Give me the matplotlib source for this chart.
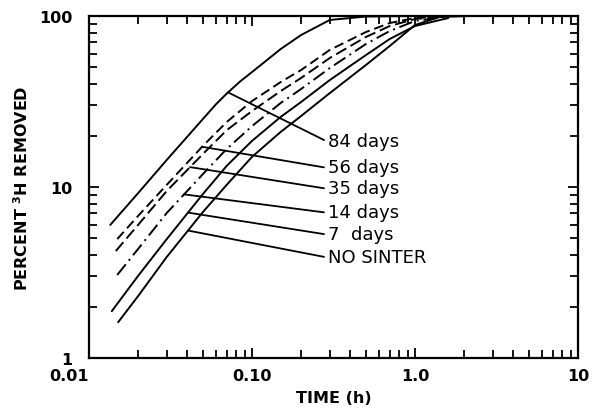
import numpy as np
import matplotlib
matplotlib.use("Agg")
import matplotlib.pyplot as plt
from matplotlib.ticker import FixedLocator, FixedFormatter, LogLocator, NullFormatter

# ---- data (time in h, percent 3H removed) ----
labels = ["84 days", "56 days", "35 days", "14 days", "7  days", "NO SINTER"]

t_84 = [0.0135, 0.02, 0.03, 0.05, 0.06, 0.07, 0.085, 0.10, 0.15, 0.20, 0.30, 0.50, 1.0]
p_84 = [6.0, 9.2, 14.4, 25.0, 30.4, 35.2, 41.6, 47.0, 64.1, 77.4, 94.8, 99.3, 100]

t_56 = [0.0149, 0.02, 0.03, 0.05, 0.07, 0.10, 0.15, 0.20, 0.30, 0.50, 0.70, 1.0, 1.6]
p_56 = [4.96, 6.77, 10.3, 17.4, 24.0, 31.8, 41.1, 48.3, 63.3, 80.6, 91.0, 97.3, 100]

t_35 = [0.0146, 0.02, 0.03, 0.05, 0.07, 0.10, 0.15, 0.20, 0.30, 0.50, 0.70, 1.0, 1.6]
p_35 = [4.22, 6.0, 9.48, 15.6, 21.5, 27.8, 36.4, 43.4, 56.8, 75.4, 87.4, 96.0, 100]

t_14 = [0.0149, 0.02, 0.03, 0.05, 0.07, 0.10, 0.15, 0.20, 0.30, 0.50, 0.70, 1.0, 1.6]
p_14 = [3.06, 4.34, 7.05, 11.9, 16.7, 22.7, 31.0, 37.4, 49.6, 68.6, 81.7, 93.5, 99.3]

t_7 = [0.0138, 0.02, 0.03, 0.05, 0.07, 0.10, 0.15, 0.20, 0.30, 0.50, 0.70, 1.0, 1.6]
p_7 = [1.88, 3.02, 4.96, 9.10, 13.3, 18.6, 25.7, 31.4, 42.2, 59.1, 73.4, 87.4, 97.3]

t_ns = [0.0151, 0.02, 0.03, 0.05, 0.07, 0.10, 0.15, 0.20, 0.30, 0.50, 0.70, 1.0, 1.42, 2.15]
p_ns = [1.62, 2.30, 3.90, 7.14, 10.3, 15.0, 21.0, 26.0, 35.4, 51.7, 66.8, 88.6, 98.7, 100]

# time at which each label's leader line touches its curve
leader_t = [0.0713, 0.0494, 0.0417, 0.0383, 0.0405, 0.0405]

x_ticks = [0.01, 0.1, 1.0, 10]
x_ticklabels = ["0.01", "0.10", "1.0", "10"]
y_ticks = [1, 10, 100]
y_ticklabels = ["1", "10", "100"]

series_t = [t_84, t_56, t_35, t_14, t_7, t_ns]
series_p = [p_84, p_56, p_35, p_14, p_7, p_ns]
styles = ["-", (0, (5, 2.5)), (0, (6, 2.5)), (0, (7, 2.5, 1, 2.5)), "-", "-"]

fig = plt.figure(figsize=(5.97, 4.14), dpi=100)
ax = fig.add_axes([89 / 597, (414 - 359) / 414, 489 / 597, 342 / 414])
ax.set_xscale("log")
ax.set_yscale("log")
ax.set_xlim(0.01, 10)
ax.set_ylim(1, 100)

for t, p, ls in zip(series_t, series_p, styles):
    ax.plot(t, p, color="black", lw=1.4, linestyle=ls,
            solid_capstyle="round", solid_joinstyle="round")

# leader lines and labels
text_y = [0.634, 0.558, 0.497, 0.427, 0.363, 0.296]
for lab, lt, t, p, ty in zip(labels, leader_t, series_t, series_p, text_y):
    py = 10 ** np.interp(np.log10(lt), np.log10(t), np.log10(p))
    ax.annotate(lab, xy=(lt, py), xytext=(0.489, ty), textcoords="axes fraction",
                ha="left", va="center", fontsize=13,
                arrowprops=dict(arrowstyle="-", color="black", lw=1.3,
                                shrinkA=1, shrinkB=0, relpos=(0, 0.45)))

ax.xaxis.set_major_locator(FixedLocator(x_ticks))
ax.xaxis.set_major_formatter(FixedFormatter(x_ticklabels))
ax.yaxis.set_major_locator(FixedLocator(y_ticks))
ax.yaxis.set_major_formatter(FixedFormatter(y_ticklabels))
ax.xaxis.set_minor_locator(LogLocator(base=10, subs=np.arange(2, 10)))
ax.yaxis.set_minor_locator(LogLocator(base=10, subs=np.arange(2, 10)))
ax.xaxis.set_minor_formatter(NullFormatter())
ax.yaxis.set_minor_formatter(NullFormatter())

ax.tick_params(which="both", direction="in", top=True, right=True, width=1.3)
ax.tick_params(which="major", length=7)
ax.tick_params(which="minor", length=5.5)
ax.tick_params(axis="x", which="major", pad=7, labelsize=11.5)
ax.tick_params(axis="y", which="major", pad=12, labelsize=11.5)
for lbl in ax.get_xticklabels() + ax.get_yticklabels():
    lbl.set_fontweight("bold")
ax.get_xticklabels()[0].set_horizontalalignment("right")

for s in ax.spines.values():
    s.set_linewidth(1.6)

ax.set_xlabel("TIME (h)", fontsize=11.5, fontweight="bold", labelpad=5)
ax.set_ylabel("PERCENT $^{\\mathbf{3}}$H REMOVED", fontsize=11.5, fontweight="bold", labelpad=6)

fig.savefig("out.png", dpi=100)
